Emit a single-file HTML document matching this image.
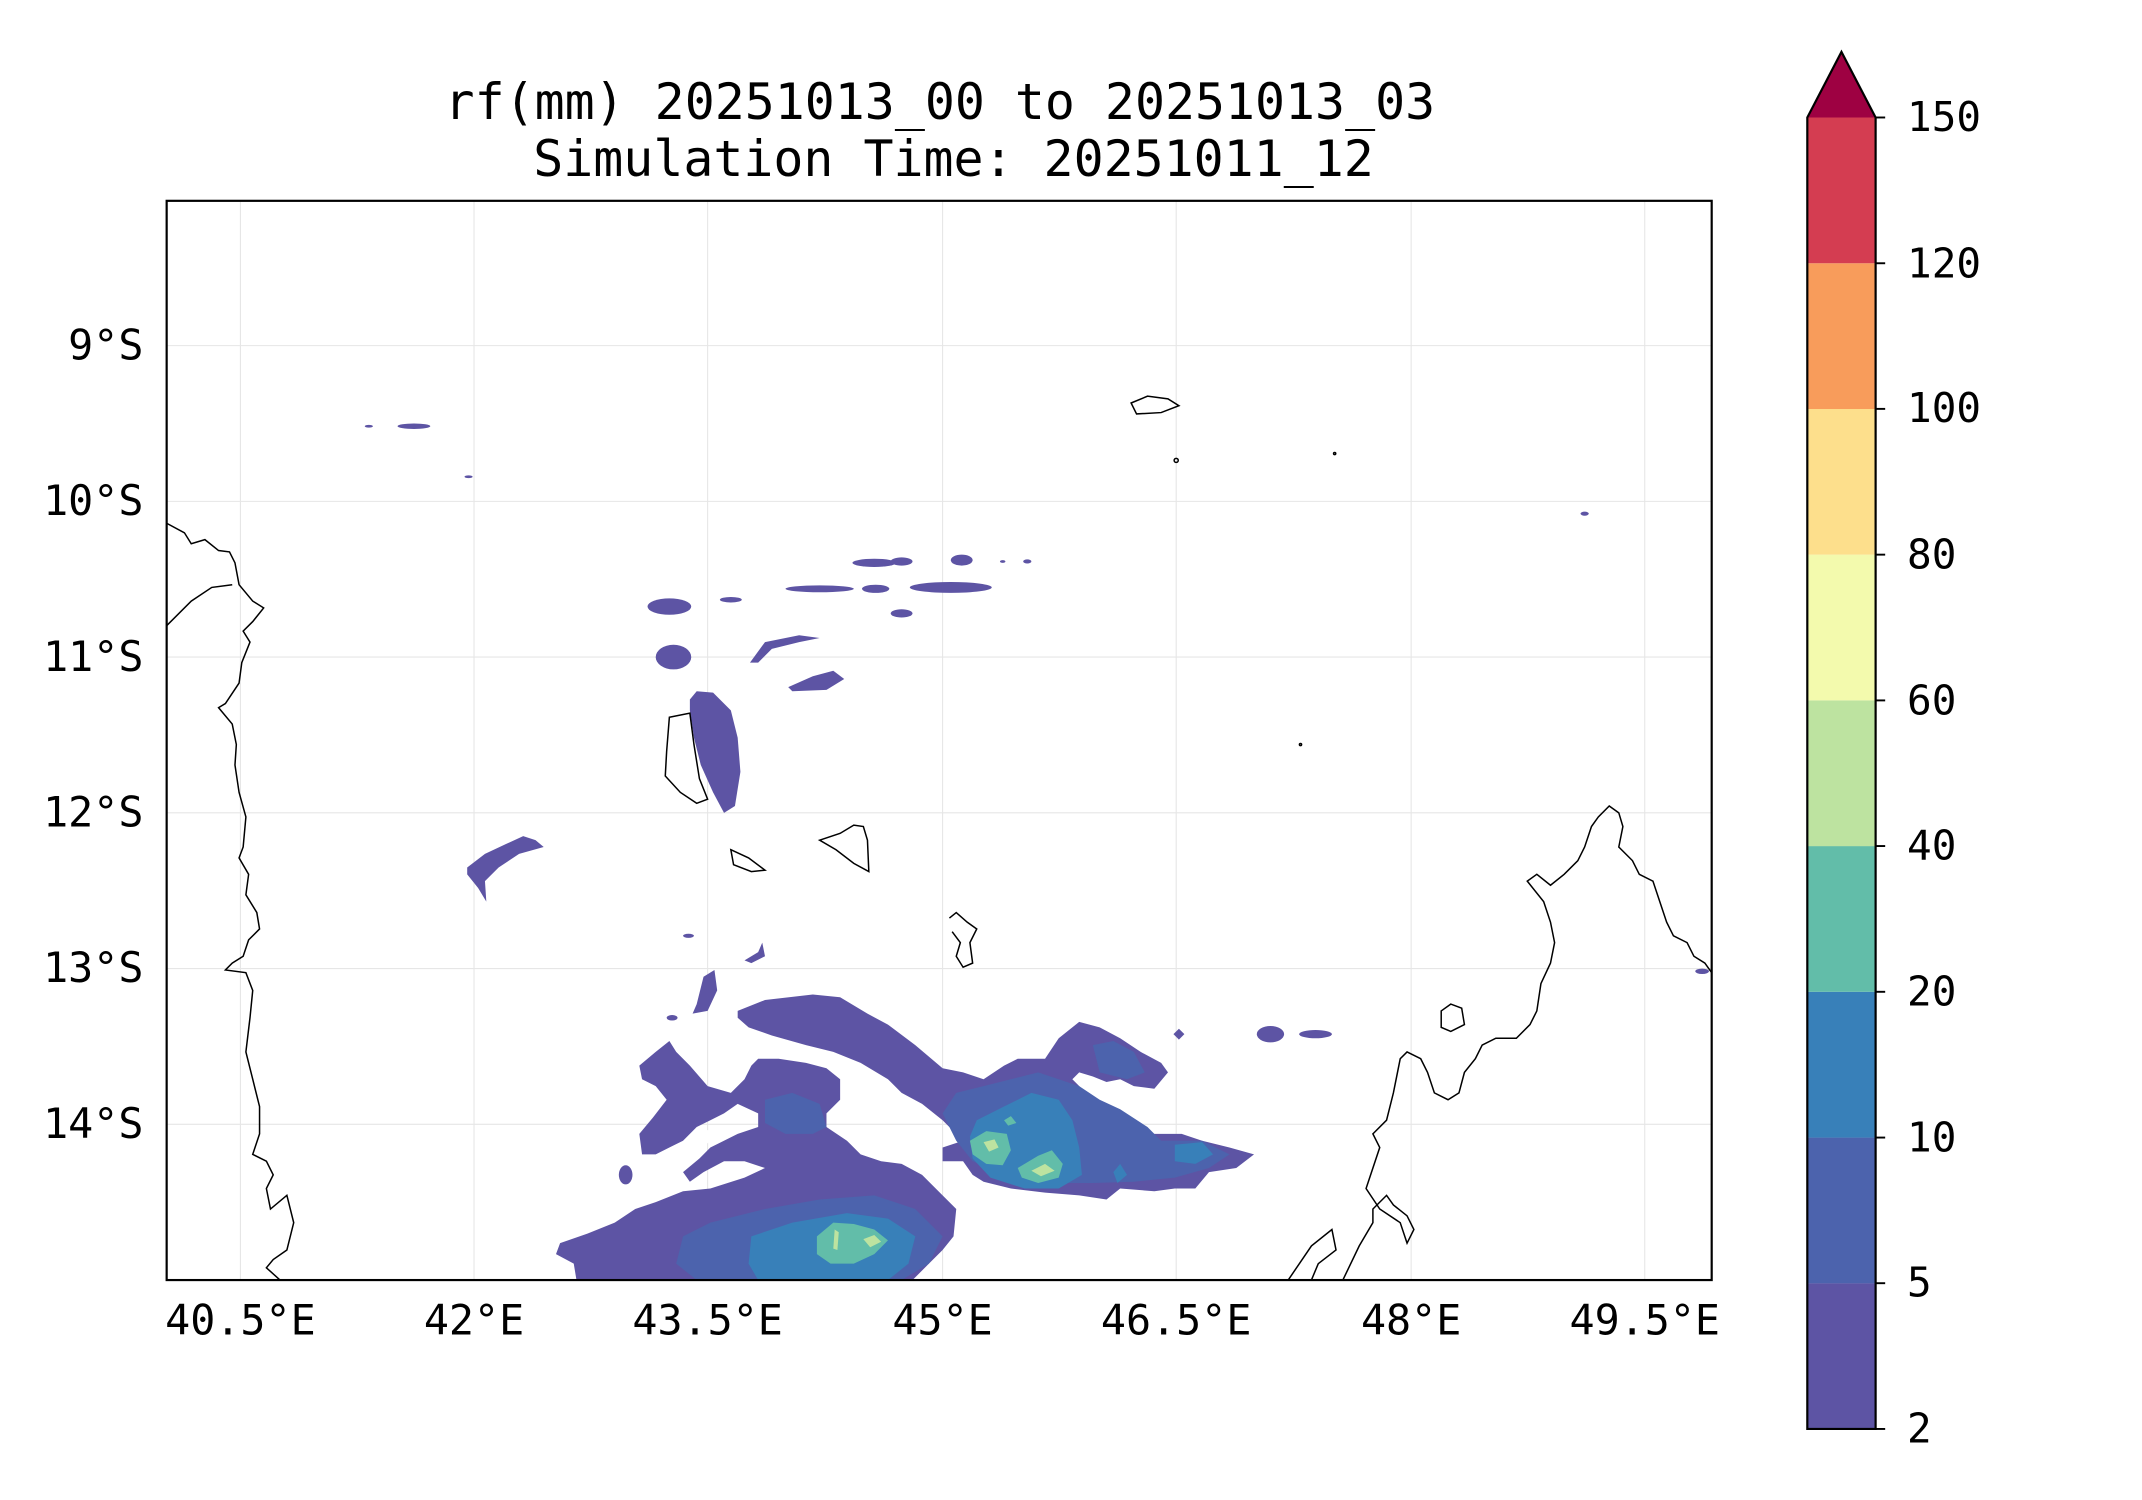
<!DOCTYPE html>
<html><head><style>html,body{margin:0;padding:0;background:#fff}svg{display:block}</style></head>
<body>
<svg width="2142" height="1500" viewBox="0 0 1568 1098" preserveAspectRatio="none" xmlns="http://www.w3.org/2000/svg" font-family="'DejaVu Sans Mono','Liberation Mono',monospace">
<rect width="1568" height="1098" fill="#fff"/>
<text x="688" y="87" font-size="36.5" text-anchor="middle">rf(mm) 20251013_00 to 20251013_03</text>
<text x="698" y="129" font-size="36.5" text-anchor="middle">Simulation Time: 20251011_12</text>
<defs><clipPath id="ax"><rect x="122" y="147" width="1131" height="790"/></clipPath></defs>
<g stroke="#e6e6e6" stroke-width="0.8">
<line x1="176" y1="147" x2="176" y2="937"/><line x1="347" y1="147" x2="347" y2="937"/><line x1="518" y1="147" x2="518" y2="937"/><line x1="690" y1="147" x2="690" y2="937"/><line x1="861" y1="147" x2="861" y2="937"/><line x1="1033" y1="147" x2="1033" y2="937"/><line x1="1204" y1="147" x2="1204" y2="937"/>
<line x1="122" y1="253" x2="1253" y2="253"/><line x1="122" y1="367" x2="1253" y2="367"/><line x1="122" y1="481" x2="1253" y2="481"/><line x1="122" y1="595" x2="1253" y2="595"/><line x1="122" y1="709" x2="1253" y2="709"/><line x1="122" y1="823" x2="1253" y2="823"/>
</g>
<g clip-path="url(#ax)">
<g fill="#5d54a4">
<ellipse cx="270" cy="312" rx="3" ry="1"/><ellipse cx="303" cy="312" rx="12" ry="2"/><ellipse cx="343" cy="349" rx="3" ry="1"/>
<ellipse cx="640" cy="412" rx="16" ry="3"/><ellipse cx="660" cy="411" rx="8" ry="3"/><ellipse cx="704" cy="410" rx="8" ry="4"/><ellipse cx="734" cy="411" rx="2" ry="1"/><ellipse cx="752" cy="411" rx="3" ry="1.5"/>
<ellipse cx="600" cy="431" rx="25" ry="2.5"/><ellipse cx="641" cy="431" rx="10" ry="3"/><ellipse cx="696" cy="430" rx="30" ry="4"/>
<ellipse cx="490" cy="444" rx="16" ry="6"/><ellipse cx="535" cy="439" rx="8" ry="2"/><ellipse cx="660" cy="449" rx="8" ry="3"/>
<polygon points="549,485 560,470 585,465 600,467 585,470 565,475 555,485"/>
<ellipse cx="493" cy="481" rx="13" ry="9"/>
<polygon points="577,503 595,495 610,491 618,497 605,505 580,506"/>
<polygon points="505,512 510,506 522,507 535,520 540,540 542,565 538,590 530,595 522,580 513,560 508,540 505,520"/>
<polygon points="342,635 355,625 370,618 383,612 392,615 398,620 380,625 365,635 355,645 356,660 350,650 342,640"/>
<ellipse cx="504" cy="685" rx="4" ry="1.5"/><polygon points="545,703 555,697 558,690 560,700 550,705"/>
<polygon points="510,735 515,715 523,710 525,725 518,740 507,742"/>
<ellipse cx="930" cy="757" rx="10" ry="6"/><ellipse cx="963" cy="757" rx="12" ry="3"/><polygon points="863,753 867,757 863,761 859,757"/><ellipse cx="1160" cy="376" rx="3" ry="1.5"/><ellipse cx="1246" cy="711" rx="5" ry="2"/>
<ellipse cx="458" cy="860" rx="5" ry="7"/><ellipse cx="492" cy="745" rx="4" ry="2"/>
<polygon points="540,740 560,732 595,728 615,730 635,742 650,750 670,765 690,782 705,785 720,790 735,780 745,775 765,775 775,760 790,748 805,752 820,760 835,770 850,778 855,785 845,797 830,795 820,790 810,792 800,788 790,785 785,790 795,800 810,812 825,825 835,830 865,830 880,835 900,840 918,845 905,855 885,858 875,870 860,870 845,872 820,870 810,878 790,875 765,873 740,870 720,865 712,860 705,850 690,850 690,840 705,835 690,820 675,808 660,800 650,790 630,778 610,770 590,765 565,758 548,752 540,745"/>
<polygon points="468,780 480,770 490,762 495,770 505,780 518,795 535,800 545,790 550,780 555,775 570,775 590,778 605,782 615,790 615,805 605,815 605,825 620,835 630,845 645,850 660,852 675,860 690,875 700,885 698,905 690,915 680,925 668,937 422,937 420,925 407,918 410,910 430,903 450,895 465,885 480,880 500,872 520,870 545,862 560,855 545,850 530,850 515,858 505,865 500,858 512,848 520,840 540,830 555,825 555,815 540,808 530,815 520,820 510,825 500,835 490,840 480,845 470,845 468,830 478,818 488,805 480,795 470,790"/>
</g>
<g fill="#fff"><polygon points="518,827 523,832 518,837 514,832"/><polygon points="632,830 636,835 632,838 628,834"/><polygon points="655,830 665,829 668,833 655,833"/></g>
<g fill="#4c63ad">
<polygon points="700,800 720,795 740,790 760,785 790,795 805,805 820,812 840,825 850,835 880,835 900,845 885,855 860,862 830,865 800,866 770,866 735,860 712,850 700,835 690,815"/>
<polygon points="800,765 815,762 830,770 838,785 825,790 805,785"/>
<polygon points="560,805 580,800 600,808 605,825 595,830 575,830 560,822"/>
<polygon points="500,905 520,895 560,885 600,878 640,875 670,885 690,905 680,925 660,937 510,937 495,925"/>
</g>
<g fill="#3880b9">
<polygon points="715,820 735,810 755,800 775,805 785,820 790,840 792,860 775,870 750,870 725,862 712,848 710,832"/>
<polygon points="860,838 880,836 888,845 875,852 860,850"/>
<polygon points="550,905 580,895 620,888 650,892 670,905 665,925 650,937 555,937 548,925"/>
<polygon points="815,858 820,852 825,860 818,866"/>
</g>
<g fill="#62bda9">
<polygon points="710,835 722,828 737,830 740,842 734,853 722,852 712,845"/>
<polygon points="745,855 760,846 770,842 778,852 775,862 760,866 748,862"/>
<polygon points="598,905 610,895 625,896 640,900 650,908 640,918 625,925 608,925 598,918"/>
<polygon points="735,820 740,817 744,822 738,824"/>
</g>
<g fill="#bde3a0">
<polygon points="720,836 728,834 731,840 724,843"/><polygon points="755,857 765,852 772,857 762,861"/>
<polygon points="611,900 614,902 613,915 610,914"/><polygon points="632,907 640,904 645,909 637,913"/>
</g>
<g fill="none" stroke="#000" stroke-width="1.1">
<polyline points="122,383 135,390 140,398 150,395 160,403 168,404 172,412 175,428 185,440 193,445 185,455 178,462 183,470 177,485 175,500 165,515 160,518 170,530 173,545 172,560 175,580 180,598 178,620 175,628 182,640 180,655 188,668 190,680 182,688 178,700 170,705 165,710 180,712 185,725 183,745 180,770 185,790 190,810 190,830 185,845 195,850 200,860 195,870 198,885 210,875 215,895 210,915 200,922 195,928 205,937"/>
<polyline points="122,458 140,440 155,430 170,428"/>
<polyline points="943,937 960,912 975,900 978,915 965,925 960,937"/>
<polyline points="983,937 995,912 1005,895 1005,885 1015,875 1020,882 1030,890 1035,900 1030,910 1025,895 1010,885 1000,870 1005,855 1010,840 1005,830 1015,820 1020,800 1025,775 1030,770 1040,775 1045,785 1050,800 1060,805 1068,800 1072,785 1080,775 1085,765 1095,760 1110,760 1120,750 1125,740 1128,720 1135,705 1138,690 1135,675 1130,660 1118,645 1125,640 1135,648 1145,640 1155,630 1160,620 1165,605 1170,598 1178,590 1185,595 1188,605 1185,620 1195,630 1200,640 1210,645 1215,660 1220,675 1225,685 1235,690 1240,700 1248,705 1253,712"/>
<polygon points="1055,740 1062,735 1070,738 1072,750 1062,755 1055,752"/>
<polygon points="490,525 505,522 508,545 512,570 518,585 510,588 498,580 487,568 488,550"/>
<polygon points="535,622 548,628 560,637 550,638 537,633"/>
<polygon points="600,615 615,610 625,604 632,605 635,615 636,638 625,632 612,622"/>
<polyline points="695,672 700,668 708,675 715,680 710,690 712,705 705,708 700,700 703,690 697,682"/>
<polygon points="828,295 840,290 855,292 863,297 850,302 832,303"/>
<circle cx="861" cy="337" r="1.5"/><circle cx="977" cy="332" r="0.8"/><circle cx="952" cy="545" r="0.8"/>
</g>
</g>
<rect x="122" y="147" width="1131" height="790" fill="none" stroke="#000" stroke-width="1.6"/>
<g font-size="30.5" text-anchor="middle">
<text x="176" y="977">40.5°E</text><text x="347" y="977">42°E</text><text x="518" y="977">43.5°E</text><text x="690" y="977">45°E</text><text x="861" y="977">46.5°E</text><text x="1033" y="977">48°E</text><text x="1204" y="977">49.5°E</text>
</g>
<g font-size="30.5" text-anchor="end">
<text x="105" y="263">9°S</text><text x="105" y="377">10°S</text><text x="105" y="491">11°S</text><text x="105" y="605">12°S</text><text x="105" y="719">13°S</text><text x="105" y="833">14°S</text>
</g>
<rect x="1323" y="939.3" width="50" height="106.7" fill="#5d54a4"/>
<rect x="1323" y="832.7" width="50" height="106.7" fill="#4c63ad"/>
<rect x="1323" y="726" width="50" height="106.7" fill="#3880b9"/>
<rect x="1323" y="619.3" width="50" height="106.7" fill="#62bda9"/>
<rect x="1323" y="512.7" width="50" height="106.7" fill="#bde3a0"/>
<rect x="1323" y="406" width="50" height="106.7" fill="#f3faad"/>
<rect x="1323" y="299.3" width="50" height="106.7" fill="#fddf8c"/>
<rect x="1323" y="192.7" width="50" height="106.7" fill="#f89c5b"/>
<rect x="1323" y="86" width="50" height="106.7" fill="#d43d51"/>
<polygon points="1323,86 1348,38 1373,86" fill="#9e0142"/>
<polygon points="1323,1046 1323,86 1348,38 1373,86 1373,1046" fill="none" stroke="#000" stroke-width="1.6"/>
<g stroke="#000" stroke-width="1.4">
<line x1="1373" y1="86" x2="1380" y2="86"/><line x1="1373" y1="192.7" x2="1380" y2="192.7"/><line x1="1373" y1="299.3" x2="1380" y2="299.3"/><line x1="1373" y1="406" x2="1380" y2="406"/><line x1="1373" y1="512.7" x2="1380" y2="512.7"/><line x1="1373" y1="619.3" x2="1380" y2="619.3"/><line x1="1373" y1="726" x2="1380" y2="726"/><line x1="1373" y1="832.7" x2="1380" y2="832.7"/><line x1="1373" y1="939.3" x2="1380" y2="939.3"/><line x1="1373" y1="1046" x2="1380" y2="1046"/>
</g>
<g font-size="30">
<text x="1396" y="96">150</text><text x="1396" y="203">120</text><text x="1396" y="309">100</text><text x="1396" y="416">80</text><text x="1396" y="523">60</text><text x="1396" y="629">40</text><text x="1396" y="736">20</text><text x="1396" y="843">10</text><text x="1396" y="949">5</text><text x="1396" y="1056">2</text>
</g>
</svg>
</body></html>
